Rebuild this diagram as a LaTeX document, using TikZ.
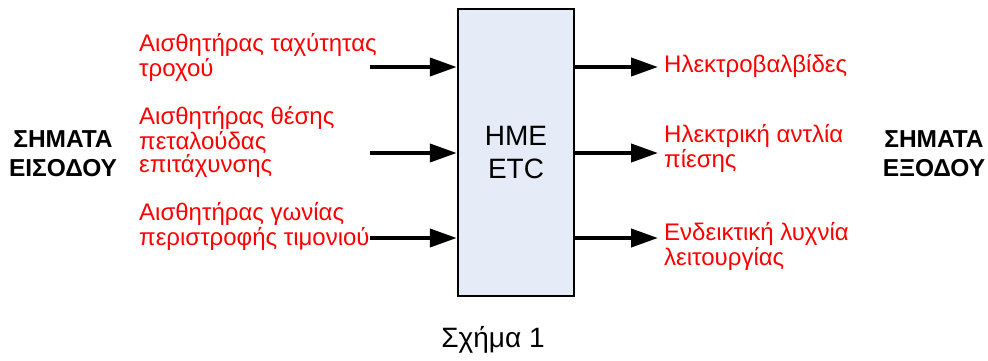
\documentclass[tikz,border=0pt]{standalone}
\usepackage{fontspec}
\setmainfont{Liberation Sans}
\usetikzlibrary{arrows.meta}
\definecolor{boxfill}{HTML}{E6ECF7}
\begin{document}
\begin{tikzpicture}[x=1pt,y=-1pt,
  sig/.style={line width=4pt,-{Triangle[length=27pt,width=18pt]}},
  lbl/.style={text=red,font=\fontsize{24}{23}\selectfont,align=left,inner sep=0pt,anchor=base west},
  grp/.style={font=\bfseries\fontsize{24.5}{29}\selectfont,align=center,inner sep=0pt,anchor=base},
  unit/.style={draw=black,fill=boxfill,line width=2.5pt,minimum width=116pt,minimum height=287pt,inner sep=0pt,align=center,font=\fontsize{28}{33}\selectfont}]
\useasboundingbox (0,0) rectangle (988,360);
\node[unit] (etc) at (516,152.5) {HME\\ETC};
% input arrows
\coordinate (in1) at (370,67);
\coordinate (in2) at (370,153);
\coordinate (in3) at (370,238);
\draw[sig] (in1) -- (in1 -| etc.west);
\draw[sig] (in2) -- (in2 -| etc.west);
\draw[sig] (in3) -- (in3 -| etc.west);
% output arrows
\coordinate (out1) at (658,67);
\coordinate (out2) at (658,153);
\coordinate (out3) at (658,238);
\draw[sig] (etc.east |- out1) -- (out1);
\draw[sig] (etc.east |- out2) -- (out2);
\draw[sig] (etc.east |- out3) -- (out3);
% input labels (anchor = baseline of last line)
\node[lbl] (l1) at (139,76) {Αισθητήρας ταχύτητας\\τροχού};
\node[lbl] (l2) at (139,172) {Αισθητήρας θέσης\\πεταλούδας\\επιτάχυνσης};
\node[lbl] (l3) at (139,245) {Αισθητήρας γωνίας\\περιστροφής τιμονιού};
% output labels
\node[lbl] (r1) at (664,72) {Ηλεκτροβαλβίδες};
\node[lbl] (r2) at (664,167) {Ηλεκτρική αντλία\\πίεσης};
\node[lbl] (r3) at (664,265) {Ενδεικτική λυχνία\\λειτουργίας};
% group titles
\node[grp] (gin) at (63,176) {ΣΗΜΑΤΑ\\ΕΙΣΟΔΟΥ};
\node[grp] (gout) at (934,176) {ΣΗΜΑΤΑ\\ΕΞΟΔΟΥ};
% caption
\node[font=\fontsize{28}{32}\selectfont,inner sep=0pt,anchor=base] (cap) at (493,347) {Σχήμα 1};
\end{tikzpicture}
\end{document}
